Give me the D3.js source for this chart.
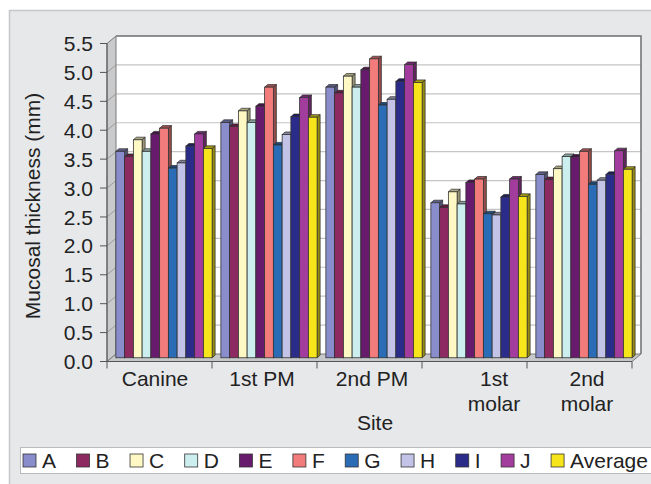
<!DOCTYPE html>
<html>
<head>
<meta charset="utf-8">
<script src="https://cdn.jsdelivr.net/npm/d3@7"></script>
<style>
  html, body { margin: 0; padding: 0; background: #ffffff; }
  svg { display: block; font-family: "Liberation Sans", Arial, sans-serif; }
</style>
</head>
<body>
<svg id="chart" width="651" height="484"></svg>
<script>
// Sites along the x axis (multi-line labels as arrays of lines)
const sites = ["Canine", "1st PM", "2nd PM", "1st molar", "2nd molar"];
const siteLabels = [["Canine"], ["1st PM"], ["2nd PM"], ["1st", "molar"], ["2nd", "molar"]];

// Series (one value per site, mucosal thickness in mm)
const seriesNames = ["A", "B", "C", "D", "E", "F", "G", "H", "I", "J", "Average"];
const valuesA   = [3.57, 4.07, 4.68, 2.68, 3.17];
const valuesB   = [3.48, 4.00, 4.58, 2.60, 3.08];
const valuesC   = [3.77, 4.27, 4.87, 2.87, 3.27];
const valuesD   = [3.57, 4.07, 4.68, 2.66, 3.48];
const valuesE   = [3.87, 4.35, 4.98, 3.03, 3.47];
const valuesF   = [3.97, 4.68, 5.17, 3.09, 3.57];
const valuesG   = [3.28, 3.68, 4.37, 2.49, 3.00];
const valuesH   = [3.37, 3.86, 4.47, 2.47, 3.07];
const valuesI   = [3.66, 4.17, 4.78, 2.78, 3.17];
const valuesJ   = [3.87, 4.50, 5.07, 3.09, 3.58];
const valuesAvg = [3.62, 4.16, 4.76, 2.79, 3.26];
const seriesValues = [valuesA, valuesB, valuesC, valuesD, valuesE, valuesF,
                      valuesG, valuesH, valuesI, valuesJ, valuesAvg];

const seriesColors = ["#8a8dcc", "#8e2a62", "#fdf8c4", "#cdeeee", "#681a6c", "#f27b7b",
                      "#2a6cb6", "#c2c3e6", "#2b2b8a", "#a23d9e", "#f6e51a"];

const yTicks = [0, 0.5, 1, 1.5, 2, 2.5, 3, 3.5, 4, 4.5, 5, 5.5];

const svg = d3.select("#chart");
const W = 651, H = 484;
const FONT = 21;

// Front plane of the 3-D box and depth offset to the back wall
const plot = { left: 107, right: 632, top: 43.5, bottom: 361.5 };
const depth = { dx: 9, dy: -7.5 };
// Horizontal nudges of the wrapped category labels
const labelNudge = [-9, -7, -2, 15, 3];

const y = d3.scaleLinear().domain([0, 5.5]).range([plot.bottom, plot.top]);
const x = d3.scaleBand().domain(sites).range([plot.left, plot.right]).padding(0);
const xInner = d3.scaleBand().domain(seriesNames).range([0, x.bandwidth()])
  .paddingInner(0).paddingOuter(0.5);

// Panel background
svg.append("rect").attr("x", 0).attr("y", 0).attr("width", W).attr("height", H).attr("fill", "#ffffff");
svg.append("rect").attr("x", 9).attr("y", 10).attr("width", W - 9).attr("height", H - 10)
  .attr("fill", "#e6e8ea");
svg.append("line").attr("x1", 9).attr("x2", W).attr("y1", 10.5).attr("y2", 10.5)
  .attr("stroke", "#c5c7c9").attr("stroke-width", 1.5);
svg.append("line").attr("x1", 9.5).attr("x2", 9.5).attr("y1", 10).attr("y2", H)
  .attr("stroke", "#c5c7c9").attr("stroke-width", 1.5);

const pts = a => a.map(p => p.join(",")).join(" ");

// Back wall
const bx0 = plot.left + depth.dx, bx1 = plot.right + depth.dx;
const by0 = plot.top + depth.dy, by1 = plot.bottom + depth.dy;
svg.append("rect").attr("x", bx0).attr("y", by0).attr("width", bx1 - bx0).attr("height", by1 - by0)
  .attr("fill", "#ffffff");

// Gridlines on back wall
const grid = svg.append("g");
yTicks.slice(1).forEach(t => {
  grid.append("line").attr("x1", bx0).attr("x2", bx1)
    .attr("y1", y(t) + depth.dy).attr("y2", y(t) + depth.dy)
    .attr("stroke", "#c4c4c4").attr("stroke-width", 1.2);
});

// Back wall border (top and right)
svg.append("polyline")
  .attr("points", pts([[bx0, by0], [bx1, by0], [bx1, by1]]))
  .attr("fill", "none").attr("stroke", "#767676").attr("stroke-width", 1.6);

// Side wall with its gridlines
svg.append("polygon")
  .attr("points", pts([[plot.left, plot.top], [bx0, by0], [bx0, by1], [plot.left, plot.bottom]]))
  .attr("fill", "#c9cacb").attr("stroke", "#7a7a7a").attr("stroke-width", 1);
yTicks.slice(1, -1).forEach(t => {
  svg.append("line").attr("x1", plot.left).attr("y1", y(t))
    .attr("x2", bx0).attr("y2", y(t) + depth.dy)
    .attr("stroke", "#9a9a9a").attr("stroke-width", 1);
});

// Floor
svg.append("polygon")
  .attr("points", pts([[plot.left, plot.bottom], [plot.right, plot.bottom], [bx1, by1], [bx0, by1]]))
  .attr("fill", "#c6c7c8").attr("stroke", "#7a7a7a").attr("stroke-width", 1);

// Bars (front face at mid depth, with top and side faces)
const barDepth = { dx: 3, dy: -2.6 };
const mid = { dx: depth.dx / 2, dy: depth.dy / 2 };
const bars = svg.append("g");
sites.forEach((site, si) => {
  seriesNames.forEach((name, k) => {
    const v = seriesValues[k][si];
    const col = d3.color(seriesColors[k]);
    const x0 = x(site) + xInner(name) + mid.dx;
    const w = xInner.bandwidth();
    const yt = y(v) + mid.dy, yb = y(0) + mid.dy;
    const g = bars.append("g");
    g.append("polygon")
      .attr("points", pts([[x0 + w, yt], [x0 + w + barDepth.dx, yt + barDepth.dy],
                           [x0 + w + barDepth.dx, yb + barDepth.dy], [x0 + w, yb]]))
      .attr("fill", col.darker(1.4)).attr("stroke", "#2a2a2a").attr("stroke-width", 0.7);
    g.append("polygon")
      .attr("points", pts([[x0, yt], [x0 + barDepth.dx, yt + barDepth.dy],
                           [x0 + w + barDepth.dx, yt + barDepth.dy], [x0 + w, yt]]))
      .attr("fill", col.darker(1.1)).attr("stroke", "#2a2a2a").attr("stroke-width", 0.7);
    g.append("rect").attr("x", x0).attr("y", yt).attr("width", w).attr("height", yb - yt)
      .attr("fill", col).attr("stroke", "#333333").attr("stroke-width", 0.8);
  });
});

// Y axis
const yAxis = svg.append("g");
yAxis.append("line").attr("x1", plot.left).attr("x2", plot.left)
  .attr("y1", plot.top).attr("y2", plot.bottom).attr("stroke", "#555").attr("stroke-width", 1);
yTicks.forEach(t => {
  yAxis.append("line").attr("x1", plot.left - 7).attr("x2", plot.left)
    .attr("y1", y(t)).attr("y2", y(t)).attr("stroke", "#555").attr("stroke-width", 1);
  yAxis.append("text").attr("x", plot.left - 14).attr("y", y(t)).attr("dy", "0.36em")
    .attr("text-anchor", "end").attr("font-size", FONT).attr("fill", "#222")
    .text(d3.format(".1f")(t));
});

// X axis
const xAxis = svg.append("g");
xAxis.append("line").attr("x1", plot.left).attr("x2", plot.right)
  .attr("y1", plot.bottom).attr("y2", plot.bottom).attr("stroke", "#555").attr("stroke-width", 1);
[...sites.map(s => x(s)), plot.right].forEach(px => {
  xAxis.append("line").attr("x1", px).attr("x2", px)
    .attr("y1", plot.bottom).attr("y2", plot.bottom + 7).attr("stroke", "#555").attr("stroke-width", 1);
});
sites.forEach((site, si) => {
  const t = xAxis.append("text").attr("text-anchor", "middle").attr("font-size", FONT).attr("fill", "#222");
  siteLabels[si].forEach((line, li) => {
    t.append("tspan").attr("x", x(site) + x.bandwidth() / 2 + mid.dx + labelNudge[si])
      .attr("y", 386 + li * 25).text(line);
  });
});

// Axis titles
svg.append("text").attr("x", 375).attr("y", 430).attr("text-anchor", "middle")
  .attr("font-size", FONT).attr("fill", "#222").text("Site");
svg.append("text").attr("transform", "translate(40,206) rotate(-90)")
  .attr("text-anchor", "middle").attr("font-size", FONT).attr("fill", "#222")
  .text("Mucosal thickness (mm)");

// Legend
const legend = svg.append("g");
legend.append("rect").attr("x", 20.5).attr("y", 447.5).attr("width", 700).attr("height", 26)
  .attr("fill", "#ffffff").attr("stroke", "#b9bbbd").attr("stroke-width", 1);
let lx = 23;
seriesNames.forEach((name, k) => {
  legend.append("rect").attr("x", lx).attr("y", 454).attr("width", 13).attr("height", 13)
    .attr("fill", seriesColors[k]).attr("stroke", "#333").attr("stroke-width", 0.8);
  const t = legend.append("text").attr("x", lx + 19).attr("y", 468).attr("font-size", FONT)
    .attr("fill", "#222").text(name);
  lx += 19 + t.node().getComputedTextLength() + 20.5;
});
</script>
</body>
</html>
